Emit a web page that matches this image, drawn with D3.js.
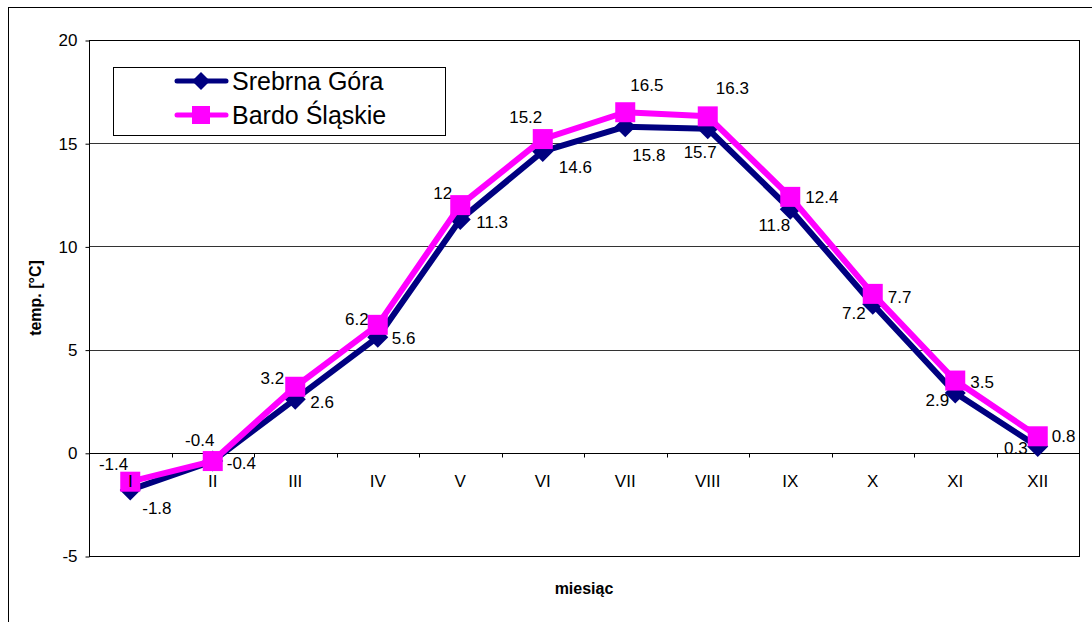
<!DOCTYPE html>
<html>
<head>
<meta charset="utf-8">
<script src="https://cdn.jsdelivr.net/npm/d3@7"></script>
<style>
  html, body { margin: 0; padding: 0; background: #fff; }
  svg { display: block; font-family: "Liberation Sans", Arial, sans-serif; }
</style>
</head>
<body>
<svg id="chart" width="1092" height="622"></svg>
<script>
// Monthly mean temperatures (°C) for two stations
const months = ["I", "II", "III", "IV", "V", "VI", "VII", "VIII", "IX", "X", "XI", "XII"];
const srebrnaGora = [-1.8, -0.4, 2.6, 5.6, 11.3, 14.6, 15.8, 15.7, 11.8, 7.2, 2.9, 0.3];
const bardoSlaskie = [-1.4, -0.4, 3.2, 6.2, 12, 15.2, 16.5, 16.3, 12.4, 7.7, 3.5, 0.8];
const yTicks = [-5, 0, 5, 10, 15, 20];

// Where each value label sits relative to its marker: [anchor, dx, dy]
const srebrnaLabelPos = [
  ["start", 12, 18], ["start", 14, 2], ["start", 15, 3], ["start", 14, 1],
  ["start", 16, 2], ["start", 16, 16], ["start", 7, 28], ["end", 9, 23],
  ["end", 0, 16], ["end", -7, 9], ["end", -6, 7], ["end", -10, 1]
];
const bardoLabelPos = [
  ["end", -2, -18], ["middle", -13, -21], ["end", -11, -9], ["end", -9, -6],
  ["end", -8, -12], ["middle", -17, -22], ["start", 5, -27], ["start", 8, -28],
  ["start", 15, 0], ["start", 15, 3], ["start", 15, 1], ["start", 14, 0]
];

const series = [
  { name: "Srebrna Góra", values: srebrnaGora, color: "#000080", marker: "diamond", labels: srebrnaLabelPos },
  { name: "Bardo Śląskie", values: bardoSlaskie, color: "#FF00FF", marker: "square", labels: bardoLabelPos }
];

const svg = d3.select("#chart");
const plot = { left: 89, right: 1079, top: 40, bottom: 556 };

// Outer chart frame
svg.append("rect")
  .attr("x", 8.5).attr("y", 7.5)
  .attr("width", 1200).attr("height", 800)
  .attr("fill", "#fff").attr("stroke", "#000").attr("stroke-width", 1);

const x = d3.scaleBand().domain(months).range([plot.left, plot.right]).paddingInner(0).paddingOuter(0);
const y = d3.scaleLinear().domain([-5, 20]).range([plot.bottom, plot.top]);

// Horizontal gridlines
svg.append("g")
  .selectAll("line")
  .data(yTicks.filter(t => t !== 0 && t !== -5 && t !== 20))
  .join("line")
  .attr("x1", plot.left).attr("x2", plot.right)
  .attr("y1", d => Math.round(y(d)) + 0.5).attr("y2", d => Math.round(y(d)) + 0.5)
  .attr("stroke", "#333").attr("stroke-width", 1);

// Plot area border
svg.append("rect")
  .attr("x", plot.left + 0.5).attr("y", Math.round(y(20)) + 0.5)
  .attr("width", plot.right - plot.left)
  .attr("height", Math.round(y(-5)) - Math.round(y(20)))
  .attr("fill", "none").attr("stroke", "#000").attr("stroke-width", 1);

// Y axis (plain hyphen for negatives)
const yAxis = d3.axisLeft(y).tickValues(yTicks).tickSize(4).tickPadding(8).tickFormat(d => String(d));
const gy = svg.append("g").attr("transform", `translate(${plot.left + 0.5},0.5)`).call(yAxis);
gy.select(".domain").remove();
gy.selectAll(".tick line").attr("stroke", "#000");
gy.selectAll(".tick text").attr("font-size", 17).attr("fill", "#000")
  .attr("font-family", "Liberation Sans, Arial, sans-serif");

// X axis along zero line, ticks at category boundaries
const y0 = Math.round(y(0)) + 0.5;
svg.append("line")
  .attr("x1", plot.left).attr("x2", plot.right)
  .attr("y1", y0).attr("y2", y0)
  .attr("stroke", "#000").attr("stroke-width", 1);
const boundaries = months.map(m => x(m)).concat([x(months[months.length - 1]) + x.bandwidth()]);
svg.append("g").selectAll("line")
  .data(boundaries.slice(1))
  .join("line")
  .attr("x1", d => Math.round(d) + 0.5).attr("x2", d => Math.round(d) + 0.5)
  .attr("y1", y0).attr("y2", y0 + 4)
  .attr("stroke", "#000");

const line = d3.line()
  .x((d, i) => x(months[i]) + x.bandwidth() / 2)
  .y(d => y(d));

const labelFont = 17;

// Value labels (beneath the markers)
series.forEach(s => {
  svg.append("g").selectAll("text")
    .data(s.values)
    .join("text")
    .attr("x", (d, i) => x(months[i]) + x.bandwidth() / 2 + s.labels[i][1])
    .attr("y", (d, i) => y(d) + s.labels[i][2])
    .attr("dy", "0.35em")
    .attr("text-anchor", (d, i) => s.labels[i][0])
    .attr("font-size", labelFont)
    .attr("fill", "#000")
    .text(d => String(d));
});

// Lines and markers
const diamond = r => `M0,${-r}L${r},0L0,${r}L${-r},0Z`;
series.forEach(s => {
  svg.append("path")
    .datum(s.values)
    .attr("d", line)
    .attr("fill", "none")
    .attr("stroke", s.color)
    .attr("stroke-width", 6)
    .attr("stroke-linejoin", "round");
  const g = svg.append("g");
  s.values.forEach((v, i) => {
    const cx = x(months[i]) + x.bandwidth() / 2;
    const cy = y(v);
    if (s.marker === "diamond") {
      g.append("path").attr("d", diamond(10.5)).attr("transform", `translate(${cx},${cy})`).attr("fill", s.color);
    } else {
      g.append("rect").attr("x", cx - 10).attr("y", cy - 10).attr("width", 20).attr("height", 20).attr("fill", s.color);
    }
  });
});

// Category labels
svg.append("g").selectAll("text")
  .data(months)
  .join("text")
  .attr("x", d => x(d) + x.bandwidth() / 2)
  .attr("y", y0 + 33)
  .attr("text-anchor", "middle")
  .attr("font-size", 17)
  .attr("fill", "#000")
  .text(d => d);

// Axis titles
svg.append("text")
  .attr("x", (plot.left + plot.right) / 2)
  .attr("y", 594)
  .attr("text-anchor", "middle")
  .attr("font-size", 16)
  .attr("font-weight", "bold")
  .text("miesiąc");
svg.append("text")
  .attr("transform", `translate(41,${(plot.top + plot.bottom) / 2}) rotate(-90)`)
  .attr("text-anchor", "middle")
  .attr("font-size", 16)
  .attr("font-weight", "bold")
  .text("temp. [°C]");

// Legend
const legend = svg.append("g");
legend.append("rect")
  .attr("x", 113.5).attr("y", 67.5).attr("width", 332).attr("height", 68)
  .attr("fill", "#fff").attr("stroke", "#000").attr("stroke-width", 1);
series.forEach((s, i) => {
  const ly = 81 + i * 34;
  legend.append("line")
    .attr("x1", 177).attr("x2", 226).attr("y1", ly).attr("y2", ly)
    .attr("stroke", s.color).attr("stroke-width", 5).attr("stroke-linecap", "round");
  if (s.marker === "diamond") {
    legend.append("path").attr("d", diamond(9)).attr("transform", `translate(201,${ly})`).attr("fill", s.color);
  } else {
    legend.append("rect").attr("x", 192).attr("y", ly - 9).attr("width", 18).attr("height", 18).attr("fill", s.color);
  }
  legend.append("text")
    .attr("x", 232).attr("y", ly)
    .attr("dy", "0.35em")
    .attr("font-size", 25)
    .attr("fill", "#000")
    .text(s.name);
});
</script>
</body>
</html>
